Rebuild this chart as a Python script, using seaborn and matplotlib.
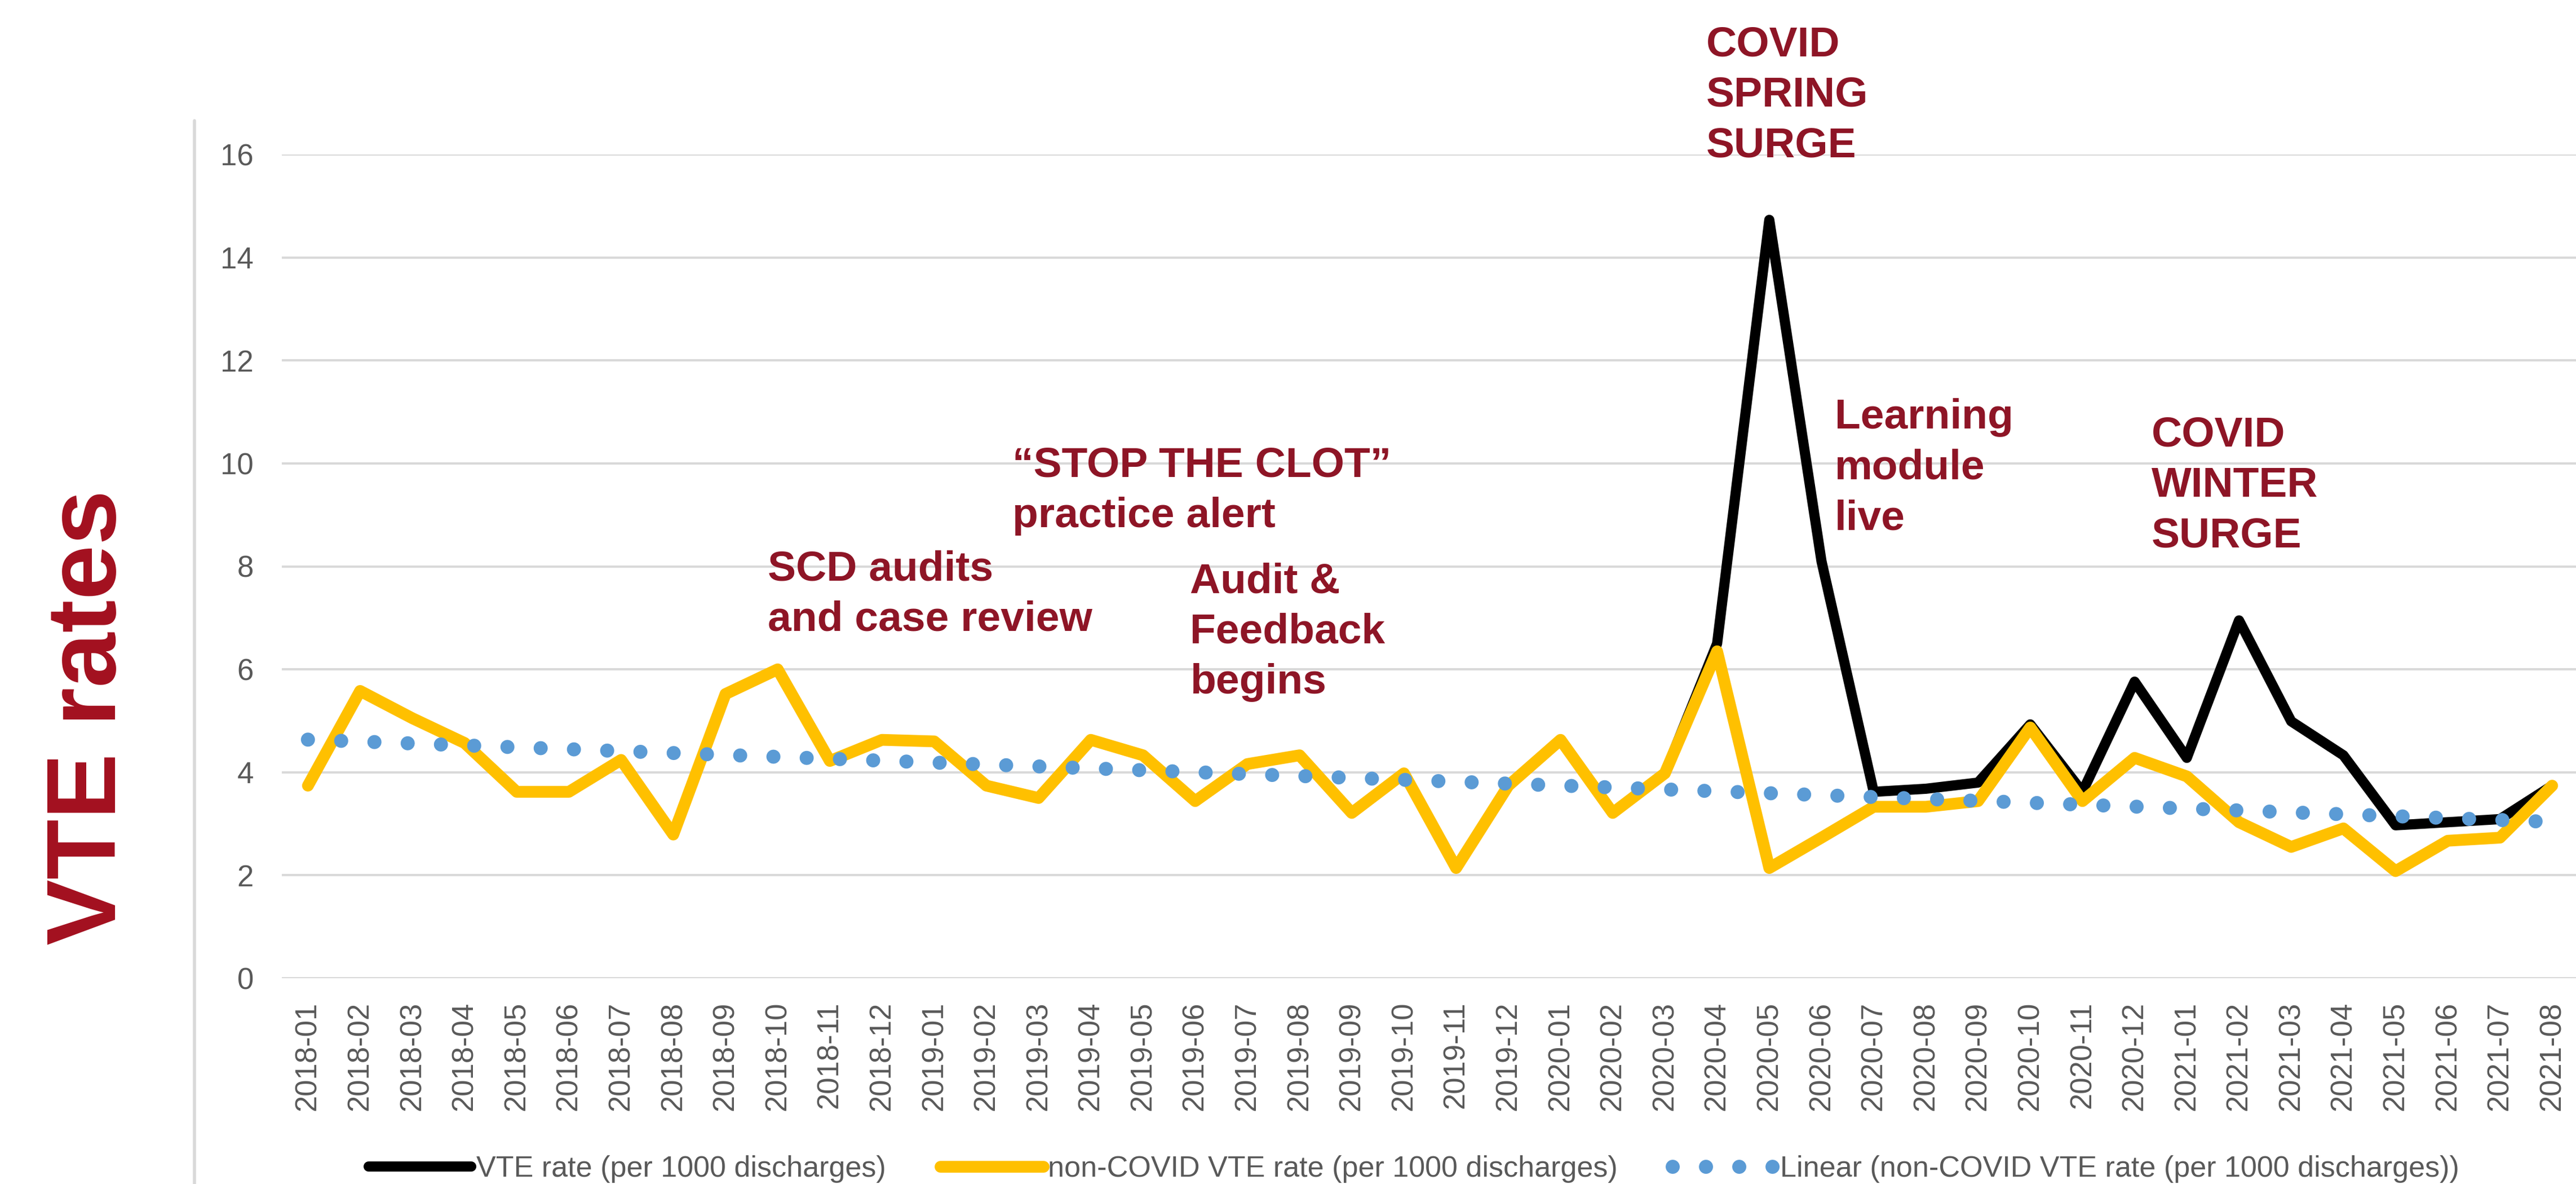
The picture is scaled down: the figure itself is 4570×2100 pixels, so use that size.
import matplotlib.pyplot as plt
import numpy as np
import pandas as pd
import seaborn as sns
from matplotlib.lines import Line2D

months = ['2018-01', '2018-02', '2018-03', '2018-04', '2018-05', '2018-06',
          '2018-07', '2018-08', '2018-09', '2018-10', '2018-11', '2018-12',
          '2019-01', '2019-02', '2019-03', '2019-04', '2019-05', '2019-06',
          '2019-07', '2019-08', '2019-09', '2019-10', '2019-11', '2019-12',
          '2020-01', '2020-02', '2020-03', '2020-04', '2020-05', '2020-06',
          '2020-07', '2020-08', '2020-09', '2020-10', '2020-11', '2020-12',
          '2021-01', '2021-02', '2021-03', '2021-04', '2021-05', '2021-06',
          '2021-07', '2021-08']

# all VTE (per 1000 discharges)
vte_rate = [3.74, 5.58, 5.05, 4.57, 3.62, 3.62, 4.24, 2.79, 5.52, 6.00, 4.22, 4.63,
            4.60, 3.74, 3.50, 4.63, 4.33, 3.44, 4.16, 4.33, 3.21, 3.98, 2.14, 3.74,
            4.63, 3.21, 3.98, 6.50, 14.73, 8.10, 3.62, 3.68, 3.80, 4.93, 3.62, 5.76,
            4.28, 6.95, 4.99, 4.33, 2.97, 3.03, 3.09, 3.74]

# non-COVID VTE (per 1000 discharges)
non_covid_rate = [3.74, 5.58, 5.05, 4.57, 3.62, 3.62, 4.24, 2.79, 5.52, 6.00, 4.22, 4.63,
                  4.60, 3.74, 3.50, 4.63, 4.33, 3.44, 4.16, 4.33, 3.21, 3.98, 2.14, 3.74,
                  4.63, 3.21, 3.98, 6.35, 2.14, 2.73, 3.33, 3.33, 3.44, 4.87, 3.44, 4.28,
                  3.92, 3.03, 2.55, 2.91, 2.08, 2.67, 2.73, 3.74]

series_labels = ['VTE rate (per 1000 discharges)',
                 'non-COVID VTE rate (per 1000 discharges)',
                 'Linear (non-COVID VTE rate (per 1000 discharges))']

# text, left px, cap-top px
notes = [
    ('COVID\nSPRING\nSURGE', 3027, 45),
    ('SCD audits\nand case review', 1362, 975),
    ('\u201cSTOP THE CLOT\u201d\npractice alert', 1796, 791),
    ('Audit &\nFeedback\nbegins', 2111, 997),
    ('Learning\nmodule\nlive', 3255, 706),
    ('COVID\nWINTER\nSURGE', 3817, 737),
]

W, H = 4570, 2100
RED = '#8E1526'
GRAY = '#595959'


def main():
    sns.set_theme(style="white")
    plt.rcParams['font.family'] = ['Liberation Sans', 'DejaVu Sans']

    df = pd.DataFrame({'idx': np.arange(len(months)), 'month': months,
                       'vte': vte_rate, 'noncovid': non_covid_rate})

    fig = plt.figure(figsize=(W / 100, H / 100), dpi=100)
    ax = fig.add_axes([500 / W, 1 - 1735 / H, 4074 / W, (1735 - 274) / H])

    sns.lineplot(x='idx', y='vte', data=df, ax=ax, color='black', lw=13,
                 solid_joinstyle='round', solid_capstyle='round', legend=False)
    sns.lineplot(x='idx', y='noncovid', data=df, ax=ax, color='#FFC000', lw=15,
                 solid_joinstyle='round', solid_capstyle='round', legend=False)
    sns.regplot(x='idx', y='noncovid', data=df, ax=ax, scatter=False, ci=None,
                line_kws=dict(color='#5B9BD5', lw=18, linestyle=(0, (0.001, 2.36)),
                              dash_capstyle='round'))
    handles = list(ax.lines[:3])

    ax.set_xlim(-0.5, len(months) - 0.5)
    ax.set_ylim(0, 16)
    ax.set_xticks(df.idx)
    ax.set_xticklabels(months, rotation=90)
    ax.set_yticks(range(0, 17, 2))
    ax.set_xlabel('')
    ax.set_ylabel('')
    ax.tick_params(axis='x', length=0, pad=30, labelsize=38, labelcolor=GRAY)
    ax.tick_params(axis='y', length=0, pad=36, labelsize=38, labelcolor=GRAY)
    ax.yaxis.grid(True, color='#D9D9D9', lw=2.9)
    ax.xaxis.grid(False)
    ax.set_axisbelow(True)
    for sp in ax.spines.values():
        sp.set_visible(False)

    fig.legend(handles, series_labels, loc='center left',
               bbox_to_anchor=(654 / W, 1 - 2074 / H), ncol=3, frameon=False,
               fontsize=37.5, handlelength=3.5, handletextpad=0.17,
               columnspacing=1.85, borderpad=0, borderaxespad=0, labelcolor=GRAY)

    for txt, x, y in notes:
        fig.text(x / W, 1 - y / H, txt, ha='left', va='top', fontsize=54,
                 fontweight='bold', color=RED, linespacing=1.38)

    fig.text(205 / W, 1 - 1272 / H, 'VTE rates', rotation=90, rotation_mode='anchor',
             ha='center', va='baseline', fontsize=126, fontweight='bold', color='#A3101F')

    # left edge of the chart frame
    fig.add_artist(Line2D([345 / W, 345 / W], [0, 1 - 214 / H], transform=fig.transFigure,
                          color='#D9D9D9', lw=4))

    fig.savefig('out.png', dpi=100)


if __name__ == '__main__':
    main()
